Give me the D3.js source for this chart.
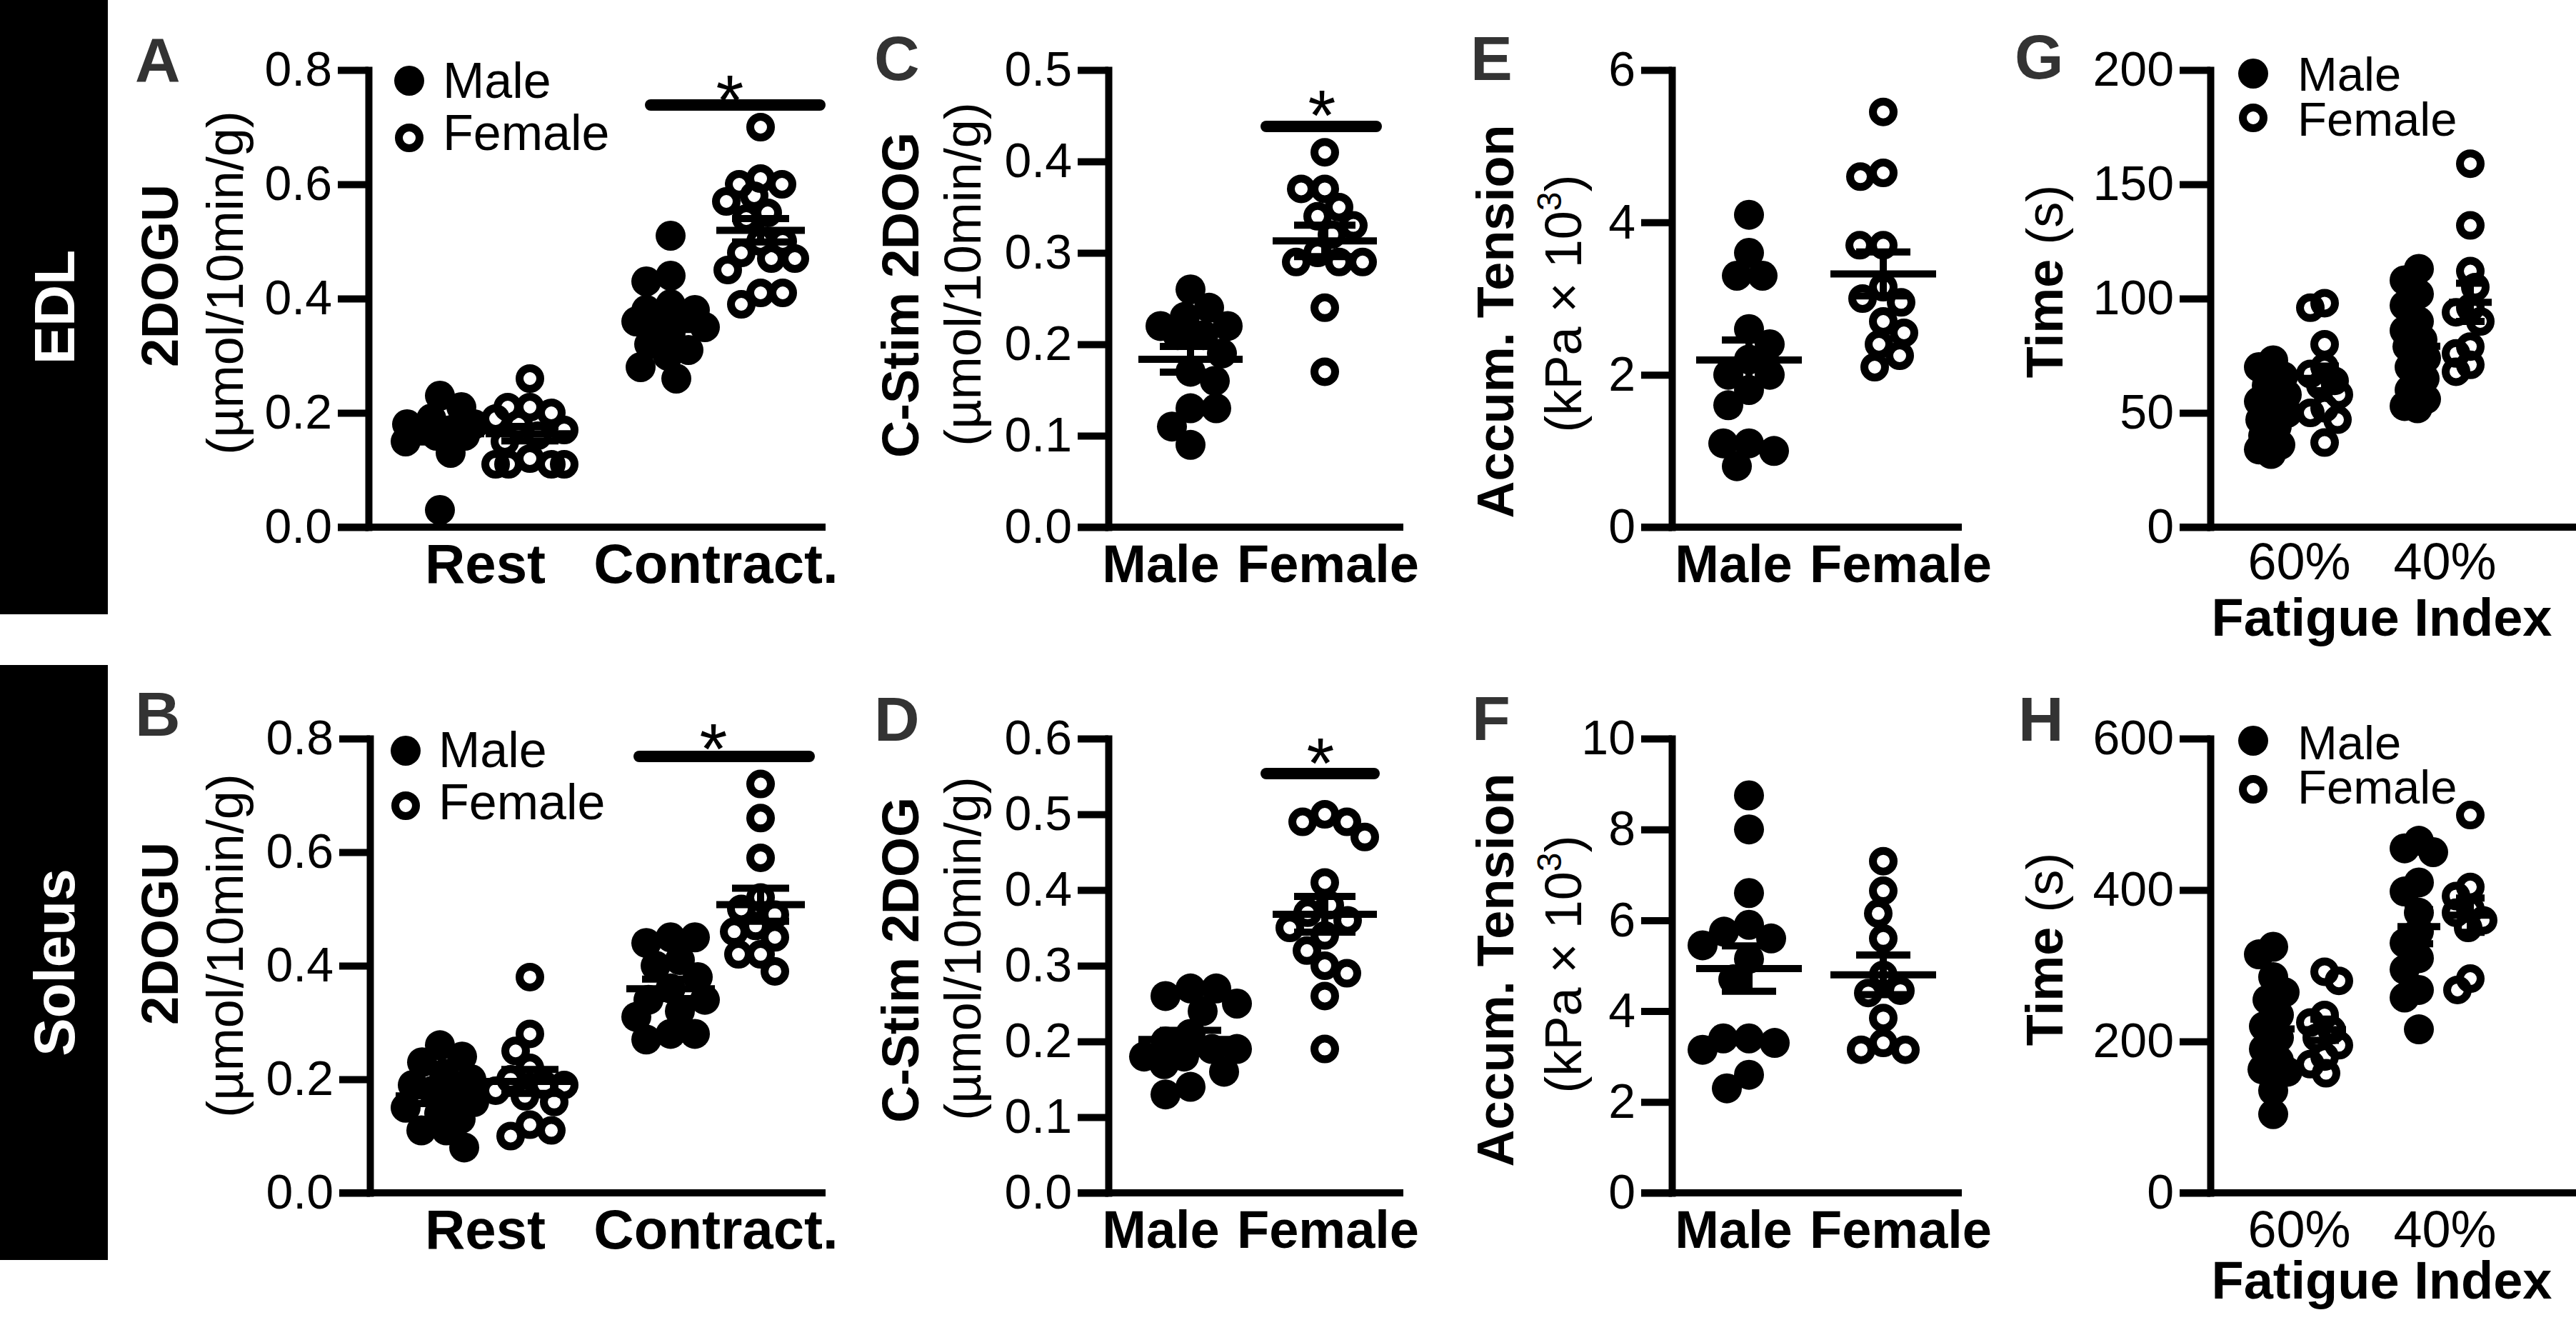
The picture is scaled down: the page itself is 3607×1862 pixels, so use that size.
<!DOCTYPE html>
<html><head><meta charset="utf-8">
<script src="https://cdn.jsdelivr.net/npm/d3@7"></script>
<style>
body{margin:0;background:#fff;}
svg{display:block;}
</style></head><body>
<svg id="c" width="3607" height="1862"></svg>
<script>
// ---------------- DATA ----------------
const rowLabels = ["EDL", "Soleus"];
const sexes = ["Male", "Female"];
const catsAB = ["Rest", "Contract."];
const catsCF = ["Male", "Female"];
const catsGH = ["60%", "40%"];

const ticksAB = [0, 0.2, 0.4, 0.6, 0.8];
const ticksC = [0, 0.1, 0.2, 0.3, 0.4, 0.5];
const ticksD = [0, 0.1, 0.2, 0.3, 0.4, 0.5, 0.6];
const ticksE = [0, 2, 4, 6];
const ticksF = [0, 2, 4, 6, 8, 10];
const ticksG = [0, 50, 100, 150, 200];
const ticksH = [0, 200, 400, 600];

// A: EDL 2DOGU
const edlRestMale = [0.23, 0.21, 0.19, 0.18, 0.18, 0.17, 0.17, 0.16, 0.16, 0.15, 0.13, 0.03];
const edlRestFemale = [0.26, 0.21, 0.21, 0.20, 0.19, 0.18, 0.17, 0.16, 0.15, 0.12, 0.11, 0.11, 0.11, 0.11];
const edlContrMale = [0.51, 0.44, 0.43, 0.39, 0.38, 0.38, 0.37, 0.37, 0.36, 0.35, 0.34, 0.32, 0.31, 0.30, 0.28, 0.26];
const edlContrFemale = [0.70, 0.61, 0.60, 0.60, 0.58, 0.57, 0.55, 0.54, 0.50, 0.50, 0.48, 0.47, 0.47, 0.45, 0.41, 0.41, 0.39];
// B: Soleus 2DOGU
const solRestMale = [0.26, 0.24, 0.23, 0.21, 0.20, 0.19, 0.18, 0.17, 0.16, 0.15, 0.14, 0.13, 0.11, 0.11, 0.08];
const solRestFemale = [0.38, 0.28, 0.25, 0.22, 0.20, 0.19, 0.19, 0.18, 0.17, 0.16, 0.12, 0.11, 0.10];
const solContrMale = [0.45, 0.45, 0.44, 0.41, 0.40, 0.38, 0.36, 0.34, 0.34, 0.32, 0.31, 0.28, 0.28, 0.27];
const solContrFemale = [0.72, 0.66, 0.59, 0.52, 0.50, 0.49, 0.47, 0.46, 0.45, 0.42, 0.42, 0.39];
// C: EDL C-Stim 2DOG
const edlStimMale = [0.26, 0.24, 0.23, 0.22, 0.22, 0.21, 0.21, 0.19, 0.17, 0.16, 0.13, 0.13, 0.11, 0.09];
const edlStimFemale = [0.41, 0.37, 0.37, 0.35, 0.34, 0.33, 0.32, 0.30, 0.29, 0.29, 0.29, 0.24, 0.17];
// D: Soleus C-Stim 2DOG
const solStimMale = [0.27, 0.27, 0.26, 0.25, 0.24, 0.21, 0.20, 0.19, 0.19, 0.18, 0.18, 0.17, 0.16, 0.14, 0.13];
const solStimFemale = [0.50, 0.49, 0.49, 0.47, 0.41, 0.38, 0.37, 0.36, 0.35, 0.34, 0.32, 0.30, 0.29, 0.26, 0.19];
// E: EDL accumulated tension
const edlTensionMale = [4.1, 3.6, 3.3, 3.3, 2.6, 2.4, 2.2, 2.0, 2.0, 1.8, 1.6, 1.1, 1.0, 1.1, 0.8];
const edlTensionFemale = [5.45, 4.65, 4.6, 3.7, 3.7, 3.15, 3.0, 2.95, 2.7, 2.55, 2.4, 2.25, 2.1];
// F: Soleus accumulated tension
const solTensionMale = [8.75, 8.0, 6.6, 5.9, 5.75, 5.6, 5.45, 5.15, 4.7, 3.4, 3.4, 3.3, 3.15, 2.6, 2.3];
const solTensionFemale = [7.3, 6.65, 6.15, 5.6, 4.8, 4.45, 4.4, 3.85, 3.3, 3.15, 3.15];
// G: EDL fatigue time
const edlTime60Male = [73, 70, 66, 62, 58, 55, 52, 50, 47, 44, 40, 36, 34, 32];
const edlTime60Female = [98, 96, 80, 70, 67, 64, 62, 58, 52, 50, 47, 37];
const edlTime40Male = [113, 108, 102, 97, 90, 86, 82, 79, 74, 70, 65, 60, 56, 53, 52];
const edlTime40Female = [159, 132, 112, 105, 96, 94, 90, 79, 76, 71, 68];
// H: Soleus fatigue time
const solTime60Male = [325, 315, 285, 265, 255, 235, 220, 205, 190, 175, 163, 160, 135, 104];
const solTime60Female = [292, 280, 235, 225, 215, 205, 195, 180, 170, 158];
const solTime40Male = [465, 455, 450, 410, 398, 370, 345, 330, 310, 295, 268, 258, 216];
const solTime40Female = [499, 404, 392, 375, 370, 360, 350, 283, 268];

// ---------------- DRAWING ----------------
const FONT = '"Liberation Sans", Arial, Helvetica, sans-serif';
const svg = d3.select("#c").attr("font-family", FONT);
const TICK = 43, SW = 10, RF = 21, RO = 14.5, OSW = 11;

// row label bars
const bars = [{t: rowLabels[0], y0: 0, y1: 860}, {t: rowLabels[1], y0: 931, y1: 1764}];
bars.forEach(b => {
  svg.append("rect").attr("x", 0).attr("y", b.y0).attr("width", 151).attr("height", b.y1 - b.y0).attr("fill", "#000");
  svg.append("text").attr("transform", `translate(104,${(b.y0 + b.y1) / 2}) rotate(-90)`)
    .attr("text-anchor", "middle").attr("fill", "#fff").attr("font-weight", "bold").attr("font-size", 80).text(b.t);
});

function swarm(vals, y, minDist, maxOff) {
  const pts = vals.map(v => ({v, y: y(v)})).sort((a, b) => a.y - b.y);
  const placed = [];
  pts.forEach((p, i) => {
    let best = null;
    const sgn = i % 2 ? 1 : -1;
    for (let k = 0; k <= maxOff && best === null; k++) {
      const cands = k === 0 ? [0] : [sgn * k, -sgn * k];
      for (const s of cands) {
        if (placed.every(q => Math.hypot(q.dx - s, q.y - p.y) >= minDist)) { best = s; break; }
      }
    }
    if (best === null) {
      let bd = -1;
      for (let s = -maxOff; s <= maxOff; s++) {
        const md = d3.min(placed, q => Math.hypot(q.dx - s, q.y - p.y));
        if (md > bd) { bd = md; best = s; }
      }
    }
    p.dx = best; placed.push(p);
  });
  return pts;
}

function marker(sel, sex, cx, cy) {
  if (sex === "Male") {
    sel.append("circle").attr("cx", cx).attr("cy", cy).attr("r", RF).attr("fill", "#000");
  } else {
    sel.append("circle").attr("cx", cx).attr("cy", cy).attr("r", RO).attr("fill", "none").attr("stroke", "#000").attr("stroke-width", OSW);
  }
}

function drawPanel(c) {
  const g = svg.append("g");
  const y = d3.scaleLinear().domain([0, c.max]).range([c.y0, c.yTop]);
  const x = d3.scalePoint().domain(c.cats).range(c.catRange);

  g.append("text").attr("x", c.letterX).attr("y", c.letterY).attr("font-size", 88)
    .attr("font-weight", "bold").attr("fill", "#333").text(c.letter);

  const ya = g.append("g").attr("transform", `translate(${c.axisX},0)`)
    .call(d3.axisLeft(y).tickValues(c.ticks).tickFormat(c.fmt).tickSize(TICK).tickSizeOuter(0).tickPadding(8));
  ya.attr("font-family", FONT).attr("font-size", 68);
  ya.select(".domain").attr("stroke", "#000").attr("stroke-width", SW).attr("stroke-linecap", "square");
  ya.selectAll(".tick line").attr("stroke", "#000").attr("stroke-width", SW);
  ya.selectAll(".tick text").attr("fill", "#000");

  g.append("line").attr("x1", c.axisX - TICK).attr("x2", c.xEnd).attr("y1", y(0)).attr("y2", y(0))
    .attr("stroke", "#000").attr("stroke-width", SW);

  const xa = g.append("g").attr("transform", `translate(0,${y(0)})`)
    .call(d3.axisBottom(x).tickSize(0).tickFormat(d => d));
  xa.select(".domain").remove();
  xa.attr("font-family", FONT).attr("font-size", c.catSize || 72).attr("font-weight", c.catWeight || "bold");
  xa.selectAll(".tick text").attr("y", c.catDy).attr("dy", 0).attr("fill", "#000")
    .attr("dx", (d, i) => c.labelDx ? c.labelDx[i] : 0);

  if (c.xTitle) {
    g.append("text").attr("x", c.xTitleX).attr("y", y(0) + c.xTitleDy).attr("text-anchor", "middle")
      .attr("font-size", 74).attr("font-weight", "bold").text(c.xTitle);
  }

  const stats = [];
  c.groups.forEach(gr => {
    const cx = x(gr.cat) + (gr.sex === "Male" ? -c.sexOff : c.sexOff);
    const md = gr.sex === "Male" ? c.minDist : c.minDist * 0.9;
    const pts = swarm(gr.values, y, md, c.maxOff);
    pts.forEach(p => marker(g, gr.sex, cx + p.dx, p.y));
    const m = d3.mean(gr.values), se = d3.deviation(gr.values) / Math.sqrt(gr.values.length);
    stats.push({cx, m, se});
  });
  stats.forEach(s => {
    const ln = (x1, y1, x2, y2) => g.append("line").attr("x1", x1).attr("y1", y1).attr("x2", x2).attr("y2", y2)
      .attr("stroke", "#000").attr("stroke-width", SW);
    ln(s.cx - c.meanHW, y(s.m), s.cx + c.meanHW, y(s.m));
    ln(s.cx, y(s.m - s.se), s.cx, y(s.m + s.se));
    ln(s.cx - c.capHW, y(s.m - s.se), s.cx + c.capHW, y(s.m - s.se));
    ln(s.cx - c.capHW, y(s.m + s.se), s.cx + c.capHW, y(s.m + s.se));
  });

  if (c.sig) {
    g.append("line").attr("x1", c.sig.x1).attr("x2", c.sig.x2).attr("y1", c.sig.y).attr("y2", c.sig.y)
      .attr("stroke", "#000").attr("stroke-width", 16).attr("stroke-linecap", "round");
    g.append("text").attr("x", c.sig.ax).attr("y", c.sig.ay + 58).attr("text-anchor", "middle")
      .attr("font-size", 100).text("*");
  }

  if (c.legend) {
    const L = c.legend;
    sexes.forEach((s, i) => {
      marker(g, s, L.x, i ? L.y2 : L.y1);
      g.append("text").attr("x", L.tx).attr("y", i ? L.ty2 : L.ty1).attr("font-size", L.size || 70).text(s);
    });
  }

  if (c.titleBold) {
    g.append("text").attr("transform", `translate(${c.tbX},${c.tbY}) rotate(-90)`).attr("text-anchor", "middle")
      .attr("font-size", 72).attr("font-weight", "bold").text(c.titleBold);
  }
  if (c.titleNorm) {
    const t = g.append("text").attr("transform", `translate(${c.tnX},${c.tnY}) rotate(-90)`).attr("text-anchor", "middle")
      .attr("font-size", 72);
    c.titleNorm(t);
  }
}

const f1 = d3.format(".1f"), f0 = d3.format("d");
const unitText = t => t.text("(µmol/10min/g)");
const tensionText = t => {
  t.append("tspan").text("(kPa × 10");
  t.append("tspan").attr("font-size", 48).attr("dy", -28).text("3");
  t.append("tspan").attr("dy", 28).text(")");
};
const timeText = t => {
  t.append("tspan").attr("font-weight", "bold").text("Time");
  t.append("tspan").text(" (s)");
};

const TOP = {yTop: 98, y0: 738}, BOT = {yTop: 1034, y0: 1670};

// A
drawPanel(Object.assign({}, TOP, {
  letter: "A", letterX: 189, letterY: 114, axisX: 516, max: 0.8, ticks: ticksAB, fmt: f1, xEnd: 1156,
  cats: catsAB, catRange: [679, 1002], sexOff: 63, catDy: 78, catSize: 78,
  groups: [{cat: "Rest", sex: "Male", values: edlRestMale}, {cat: "Rest", sex: "Female", values: edlRestFemale},
           {cat: "Contract.", sex: "Male", values: edlContrMale}, {cat: "Contract.", sex: "Female", values: edlContrFemale}],
  meanHW: 62, capHW: 40, minDist: 34, maxOff: 48,
  sig: {x1: 911, x2: 1148, y: 147, ax: 1022, ay: 117},
  legend: {x: 573, y1: 113, y2: 193, tx: 620, ty1: 137, ty2: 210},
  titleBold: "2DOGU", tbX: 249, tbY: 386, titleNorm: unitText, tnX: 340, tnY: 396
}));
// B
drawPanel(Object.assign({}, BOT, {
  letter: "B", letterX: 189, letterY: 1030, axisX: 518, max: 0.8, ticks: ticksAB, fmt: f1, xEnd: 1156,
  cats: catsAB, catRange: [679, 1002], sexOff: 63, catDy: 78, catSize: 78,
  groups: [{cat: "Rest", sex: "Male", values: solRestMale}, {cat: "Rest", sex: "Female", values: solRestFemale},
           {cat: "Contract.", sex: "Male", values: solContrMale}, {cat: "Contract.", sex: "Female", values: solContrFemale}],
  meanHW: 62, capHW: 40, minDist: 34, maxOff: 48,
  sig: {x1: 895, x2: 1133, y: 1059, ax: 999, ay: 1025},
  legend: {x: 568, y1: 1051, y2: 1128, tx: 614, ty1: 1074, ty2: 1147},
  titleBold: "2DOGU", tbX: 249, tbY: 1307, titleNorm: unitText, tnX: 340, tnY: 1324
}));
// C
drawPanel(Object.assign({}, TOP, {
  letter: "C", letterX: 1224, letterY: 112, axisX: 1552, max: 0.5, ticks: ticksC, fmt: f1, xEnd: 1965,
  cats: catsCF, catRange: [1667, 1855], sexOff: 0, catDy: 77, labelDx: [-42, 4], catSize: 74,
  groups: [{cat: "Male", sex: "Male", values: edlStimMale}, {cat: "Female", sex: "Female", values: edlStimFemale}],
  meanHW: 73, capHW: 43, minDist: 36, maxOff: 65,
  sig: {x1: 1773, x2: 1927, y: 177, ax: 1851, ay: 138},
  titleBold: "C-Stim 2DOG", tbX: 1286, tbY: 413, titleNorm: unitText, tnX: 1373, tnY: 384
}));
// D
drawPanel(Object.assign({}, BOT, {
  letter: "D", letterX: 1224, letterY: 1037, axisX: 1552, max: 0.6, ticks: ticksD, fmt: f1, xEnd: 1965,
  cats: catsCF, catRange: [1667, 1855], sexOff: 0, catDy: 77, labelDx: [-42, 4], catSize: 74,
  groups: [{cat: "Male", sex: "Male", values: solStimMale}, {cat: "Female", sex: "Female", values: solStimFemale}],
  meanHW: 73, capHW: 43, minDist: 36, maxOff: 65,
  sig: {x1: 1773, x2: 1924, y: 1083, ax: 1849, ay: 1045},
  titleBold: "C-Stim 2DOG", tbX: 1286, tbY: 1344, titleNorm: unitText, tnX: 1373, tnY: 1328
}));
// E
drawPanel(Object.assign({}, TOP, {
  letter: "E", letterX: 2059, letterY: 112, axisX: 2341, max: 6, ticks: ticksE, fmt: f0, xEnd: 2747,
  cats: catsCF, catRange: [2449, 2637], sexOff: 0, catDy: 77, labelDx: [-22, 24], catSize: 74,
  groups: [{cat: "Male", sex: "Male", values: edlTensionMale}, {cat: "Female", sex: "Female", values: edlTensionFemale}],
  meanHW: 74, capHW: 38, minDist: 36, maxOff: 65,
  titleBold: "Accum. Tension", tbX: 2119, tbY: 450, titleNorm: tensionText, tnX: 2214, tnY: 425
}));
// F
drawPanel(Object.assign({}, BOT, {
  letter: "F", letterX: 2061, letterY: 1036, axisX: 2341, max: 10, ticks: ticksF, fmt: f0, xEnd: 2747,
  cats: catsCF, catRange: [2449, 2637], sexOff: 0, catDy: 77, labelDx: [-22, 24], catSize: 74,
  groups: [{cat: "Male", sex: "Male", values: solTensionMale}, {cat: "Female", sex: "Female", values: solTensionFemale}],
  meanHW: 74, capHW: 38, minDist: 36, maxOff: 65,
  titleBold: "Accum. Tension", tbX: 2119, tbY: 1358, titleNorm: tensionText, tnX: 2214, tnY: 1350
}));
// G
drawPanel(Object.assign({}, TOP, {
  letter: "G", letterX: 2821, letterY: 110, axisX: 3095, max: 200, ticks: ticksG, fmt: f0, xEnd: 3607,
  cats: catsGH, catRange: [3219, 3423], sexOff: 36, catDy: 73, catWeight: "normal", catSize: 72,
  xTitle: "Fatigue Index", xTitleX: 3335, xTitleDy: 152,
  groups: [{cat: "60%", sex: "Male", values: edlTime60Male}, {cat: "60%", sex: "Female", values: edlTime60Female},
           {cat: "40%", sex: "Male", values: edlTime40Male}, {cat: "40%", sex: "Female", values: edlTime40Female}],
  meanHW: 30, capHW: 20, minDist: 26, maxOff: 20,
  legend: {x: 3155, y1: 103, y2: 165, tx: 3217, ty1: 127, ty2: 190, size: 67},
  titleNorm: timeText, tnX: 2888, tnY: 394
}));
// H
drawPanel(Object.assign({}, BOT, {
  letter: "H", letterX: 2826, letterY: 1037, axisX: 3095, max: 600, ticks: ticksH, fmt: f0, xEnd: 3607,
  cats: catsGH, catRange: [3219, 3423], sexOff: 36, catDy: 76, catWeight: "normal", catSize: 72,
  xTitle: "Fatigue Index", xTitleX: 3335, xTitleDy: 148,
  groups: [{cat: "60%", sex: "Male", values: solTime60Male}, {cat: "60%", sex: "Female", values: solTime60Female},
           {cat: "40%", sex: "Male", values: solTime40Male}, {cat: "40%", sex: "Female", values: solTime40Female}],
  meanHW: 30, capHW: 20, minDist: 26, maxOff: 20,
  legend: {x: 3155, y1: 1037, y2: 1105, tx: 3217, ty1: 1063, ty2: 1125, size: 67},
  titleNorm: timeText, tnX: 2888, tnY: 1329
}));
</script>
</body></html>
